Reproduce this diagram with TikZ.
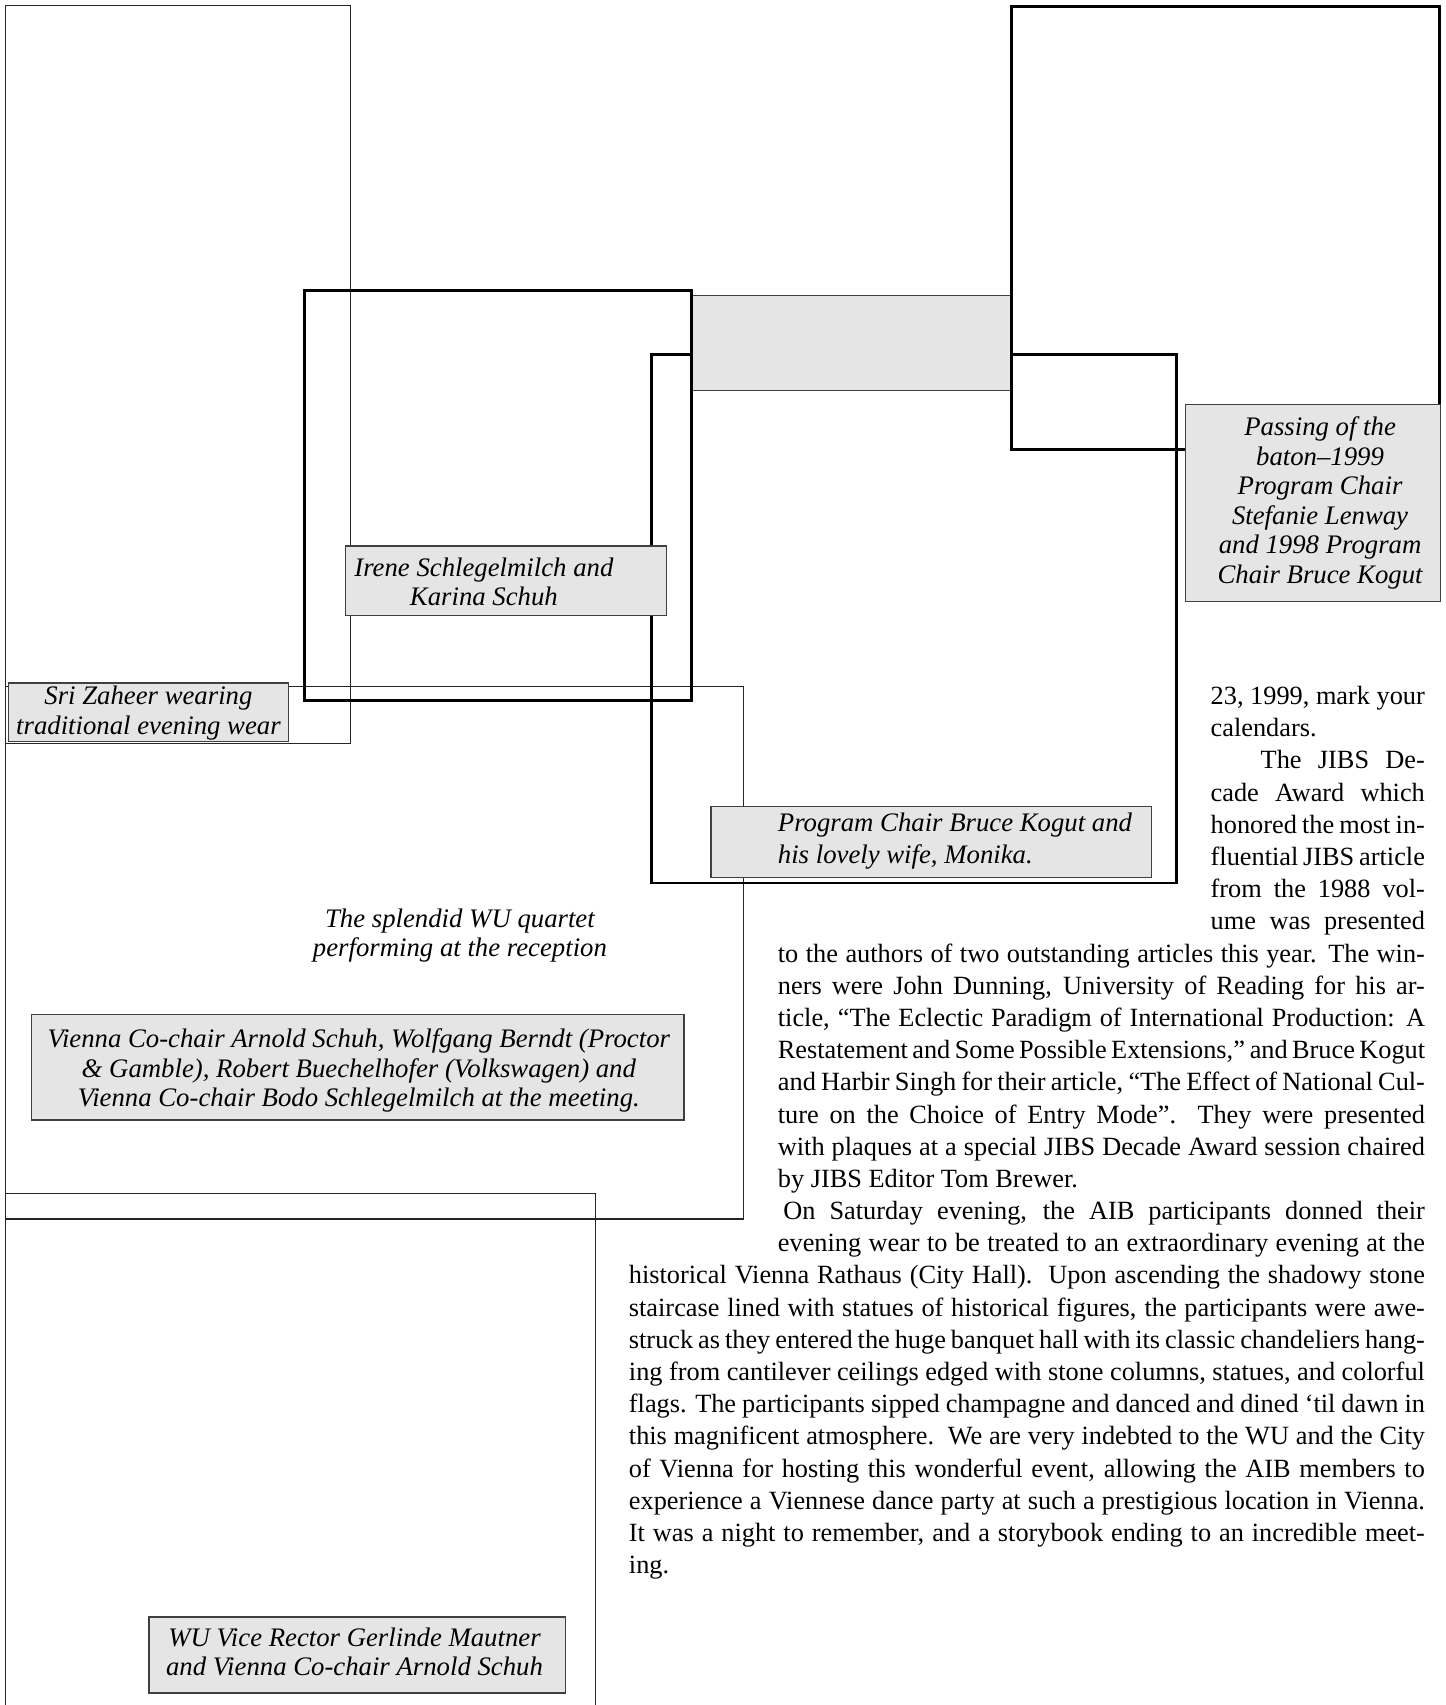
\documentclass[tikz,border=0pt]{standalone}
\usepackage{fontspec}
\setmainfont{Liberation Serif}
\usetikzlibrary{positioning}

\begin{document}
\begin{tikzpicture}[x=0.5pt, y=-0.5pt,
  thinframe/.style={draw=black!85, line width=0.5pt},
  thickframe/.style={draw=black, line width=1.3pt},
  capbox/.style={fill=black!10, draw=black!75, line width=0.6pt},
  caption/.style={font=\fontsize{12.3}{13.6}\selectfont\itshape, align=center, inner sep=0pt},
  bodyline/.style={anchor=base west, inner sep=0pt, font=\fontsize{12.1}{14.8}\selectfont}]
\useasboundingbox (0,0) rectangle (1329,1568);

% photo frames
\draw[thinframe] (5,5) rectangle (322,684);
\draw[thinframe] (5,631) rectangle (684,1121);
\draw[thinframe] (5,1568) -- (5,1098) -- (548,1098) -- (548,1568);
\draw[thickframe] (599,326) rectangle (1082,812);
\draw[capbox] (636,272) rectangle (930,359);
\draw[thickframe] (280,267) rectangle (636,644);
\draw[thickframe] (930,6) rectangle (1324,413);

% captions
\draw[capbox] (8,628) rectangle (265,682);
\node[caption] (sri) at (136.5,656) {Sri Zaheer wearing\\traditional evening wear};
\draw[capbox] (318,502) rectangle (613,566);
\node[caption] (irene) at (445,535) {Irene Schlegelmilch and\\Karina Schuh};
\draw[capbox] (1090,372) rectangle (1325,553);
\node[caption] (baton) at (1214,462.5) {Passing of the\\baton--1999\\Program Chair\\Stefanie Lenway\\and 1998 Program\\Chair Bruce Kogut};
\draw[capbox] (654,742) rectangle (1059,807);
\node[caption, align=left, anchor=west, font=\fontsize{12.3}{14.3}\selectfont\itshape] (kogut) at (715,773.5) {Program Chair Bruce Kogut and\\his lovely wife, Monika.};
\node[caption] (quartet) at (423,860.5) {The splendid WU quartet\\performing at the reception};
\draw[capbox] (29,933) rectangle (629,1030);
\node[caption] (meeting) at (330,984.5) {Vienna Co-chair Arnold Schuh, Wolfgang Berndt (Proctor\\\& Gamble), Robert Buechelhofer (Volkswagen) and\\Vienna Co-chair Bodo Schlegelmilch at the meeting.};
\draw[capbox] (137,1487) rectangle (520,1557);
\node[caption] (rector) at (326,1519) {WU Vice Rector Gerlinde Mautner\\and Vienna Co-chair Arnold Schuh};

% article text
\foreach \linetext [count=\i from 0] in {
  {23, 1999, mark your},
  {calendars.\hfill},
  {\hskip23pt The JIBS De-},
  {cade Award which},
  {honored the most in-},
  {fluential JIBS article},
  {from the 1988 vol-},
  {ume was presented}}
  \node[bodyline] (nar\i) at (1113,{648+29.6*\i}) {\hbox to 98.5pt{\linetext}};
\foreach \linetext [count=\i from 8] in {
  {to the authors of two outstanding articles this year. The win-},
  {ners were John Dunning, University of Reading for his ar-},
  {ticle, “The Eclectic Paradigm of International Production: A},
  {Restatement and Some Possible Extensions,” and Bruce Kogut},
  {and Harbir Singh for their article, “The Effect of National Cul-},
  {ture on the Choice of Entry Mode”.\ \ They were presented},
  {with plaques at a special JIBS Decade Award session chaired},
  {by JIBS Editor Tom Brewer.\hfill},
  {\hskip2.5pt On Saturday evening, the AIB participants donned their},
  {evening wear to be treated to an extraordinary evening at the}}
  \node[bodyline] (mid\i) at (715,{648+29.6*\i}) {\hbox to 297.5pt{\linetext}};
\foreach \linetext [count=\i from 18] in {
  {historical Vienna Rathaus (City Hall).\ \ Upon ascending the shadowy stone},
  {staircase lined with statues of historical figures, the participants were awe-},
  {struck as they entered the huge banquet hall with its classic chandeliers hang-},
  {ing from cantilever ceilings edged with stone columns, statues, and colorful},
  {flags. The participants sipped champagne and danced and dined ‘til dawn in},
  {this magnificent atmosphere.\ \ We are very indebted to the WU and the City},
  {of Vienna for hosting this wonderful event, allowing the AIB members to},
  {experience a Viennese dance party at such a prestigious location in Vienna.},
  {It was a night to remember, and a storybook ending to an incredible meet-},
  {ing.\hfill}}
  \node[bodyline] (wide\i) at (578,{648+29.6*\i}) {\hbox to 366pt{\linetext}};
\end{tikzpicture}
\end{document}
